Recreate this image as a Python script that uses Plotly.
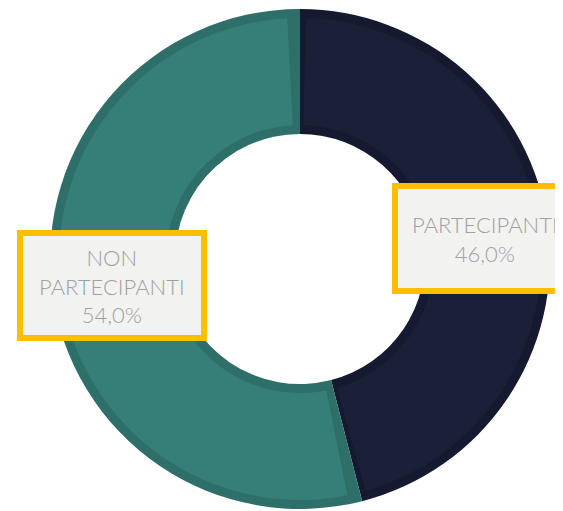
import plotly.graph_objects as go

labels = ["PARTECIPANTI", "NON PARTECIPANTI"]
values = [46.0, 54.0]
box_texts = ["PARTECIPANTI<br>46,0%", "NON<br>PARTECIPANTI<br>54,0%"]

fill_colors = ["#1b2039", "#367f79"]
edge_colors = ["#161a30", "#2e6f6a"]

OFF = 8  # page body margin
W, H = 563 - OFF, 511 - OFF
cx, cy = 300 - OFF, 259 - OFF
R_out, R_in = 250, 125
inset = 9
gap_n, gap_t = 0.4, 0.85  # seam band widths (percent units)


def dom(r):
    yc = H - cy
    return dict(x=[(cx - r) / W, (cx + r) / W], y=[(yc - r) / H, (yc + r) / H])


def px(x):
    return (x - OFF) / W


def py(y):
    return (H - (y - OFF)) / H


fig = go.Figure()
fig.add_trace(go.Pie(
    labels=labels, values=values, sort=False, direction="clockwise", rotation=0,
    hole=R_in / R_out, domain=dom(R_out), marker=dict(colors=edge_colors, line=dict(width=0)),
    textinfo="none", hoverinfo="skip", showlegend=False,
))
r2 = R_out - inset
top_vals = [gap_n, values[0] - 2 * gap_n, gap_n + gap_t, values[1] - 2 * gap_t, gap_t]
top_cols = ["rgba(0,0,0,0)", fill_colors[0], "rgba(0,0,0,0)", fill_colors[1], "rgba(0,0,0,0)"]
fig.add_trace(go.Pie(
    labels=["a", "b", "c", "d", "e"], values=top_vals, sort=False, direction="clockwise", rotation=0,
    hole=(R_in + inset) / r2, domain=dom(r2), marker=dict(colors=top_cols, line=dict(width=0)),
    textinfo="none", hoverinfo="skip", showlegend=False,
))

yellow = "#fbbf00"
box_fill = "#f2f2f0"
fig.add_shape(type="rect", xref="paper", yref="paper", x0=px(20), x1=px(204), y0=py(233), y1=py(338),
              line=dict(color=yellow, width=6), fillcolor=box_fill, layer="above")
fig.add_shape(type="rect", xref="paper", yref="paper", x0=px(395), x1=px(590), y0=py(186), y1=py(291),
              line=dict(color=yellow, width=6), fillcolor=box_fill, layer="above")

font = dict(family="Lato", size=22, color="#a0a0a0", weight=300)
ann = dict(showarrow=False, xref="paper", yref="paper", font=font, align="center",
           xanchor="center", yanchor="middle")
fig.add_annotation(text=box_texts[1], x=px(112), y=py(286), **ann)
fig.add_annotation(text=box_texts[0], x=px(485), y=py(239), **ann)

fig.update_layout(width=W, height=H, margin=dict(l=0, r=0, t=0, b=0),
                  paper_bgcolor="white", plot_bgcolor="white")
fig.write_html("out.html")
